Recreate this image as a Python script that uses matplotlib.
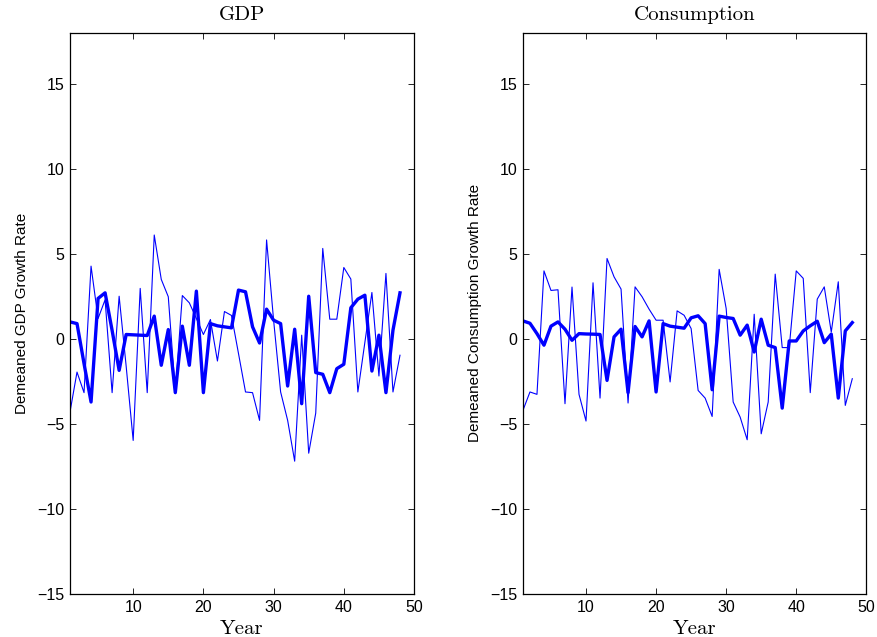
import matplotlib.pyplot as plt
import numpy as np

plt.rcParams['font.family'] = ['Liberation Sans', 'DejaVu Sans']

years = np.arange(1, 49)

# GDP: thin = raw demeaned growth, thick = smoothed component
gdp_thin = [-4.3, -1.95, -3.16, 4.28, 1.2, 2.3, -3.16, 2.51, -1.6, -5.97,
            2.97, -3.16, 6.11, 3.5, 2.48, -3.1, 2.55, 2.12, 1.2, 0.26,
            1.14, -1.3, 1.61, 1.38, -0.86, -3.12, -3.16, -4.79, 5.82, 1.1,
            -3.12, -4.79, -7.19, 0.22, -6.72, -4.36, 5.32, 1.16, 1.16, 4.2,
            3.52, -3.12, -0.2, 2.73, -2.18, 3.85, -3.12, -0.96]
gdp_thick = [1.0, 0.9, -1.45, -3.71, 2.38, 2.71, 0.5, -1.85, 0.26, 0.24,
             0.22, 0.2, 1.34, -1.55, 0.55, -3.16, 0.75, -1.55, 2.81, -3.16,
             0.9, 0.77, 0.71, 0.65, 2.87, 2.77, 0.71, -0.24, 1.75, 1.1,
             0.9, -2.77, 0.57, -3.81, 2.51, -1.98, -2.08, -3.16, -1.75, -1.49,
             1.83, 2.34, 2.57, -1.89, 0.22, -3.16, 0.51, 2.71]

# Consumption
cons_thin = [-4.2, -3.12, -3.26, 4.0, 2.85, 2.89, -3.81, 3.05, -3.26, -4.83,
             3.3, -3.48, 4.73, 3.65, 2.93, -3.77, 3.06, 2.48, 1.75, 1.1,
             1.1, -2.53, 1.65, 1.39, 0.61, -3.03, -3.48, -4.56, 4.09, 1.79,
             -3.71, -4.6, -5.93, 1.45, -5.58, -3.71, 3.81, -0.51, -0.51, 4.0,
             3.56, -3.16, 2.34, 3.06, 0.4, 3.36, -3.91, -2.34]
cons_thick = [1.06, 0.92, 0.31, -0.37, 0.75, 1.0, 0.57, -0.08, 0.31, 0.29,
              0.28, 0.26, -2.44, 0.12, 0.57, -3.16, 0.73, 0.12, 1.06, -3.12,
              0.9, 0.75, 0.69, 0.63, 1.24, 1.36, 0.9, -2.99, 1.34, 1.26,
              1.2, 0.22, 0.81, -0.77, 1.16, -0.37, -0.51, -4.07, -0.12, -0.12,
              0.47, 0.77, 1.04, -0.22, 0.28, -3.48, 0.47, 0.96]

titles = ['GDP', 'Consumption']
ylabels = ['Demeaned GDP Growth Rate', 'Demeaned Consumption Growth Rate']

fig = plt.figure(figsize=(8.77, 6.37), dpi=100)
ax1 = fig.add_axes([0.0798, 0.0675, 0.3923, 0.881])
ax2 = fig.add_axes([0.5963, 0.0675, 0.3915, 0.881])

for ax, thin, thick, title, ylab in zip([ax1, ax2], [gdp_thin, cons_thin],
                                        [gdp_thick, cons_thick], titles, ylabels):
    ax.plot(years, thin, color='#0000ff', lw=0.8)
    ax.plot(years, thick, color='#0000ff', lw=2.4)
    ax.set_xlim(1, 50)
    ax.set_ylim(-15, 18)
    ax.set_xticks([10, 20, 30, 40, 50])
    ax.set_yticks([-15, -10, -5, 0, 5, 10, 15])
    ax.tick_params(direction='in', top=True, right=True, length=4,
                   width=0.6, labelsize=11.5, pad=4)
    for sp in ax.spines.values():
        sp.set_linewidth(0.9)
    ax.set_title(title, family='cmr10', fontsize=15, pad=9)
    ax.set_xlabel('Year', family='cmr10', fontsize=15, labelpad=4)
    ax.set_ylabel(ylab, fontsize=11, labelpad=6)

fig.savefig('out.png', dpi=100)
